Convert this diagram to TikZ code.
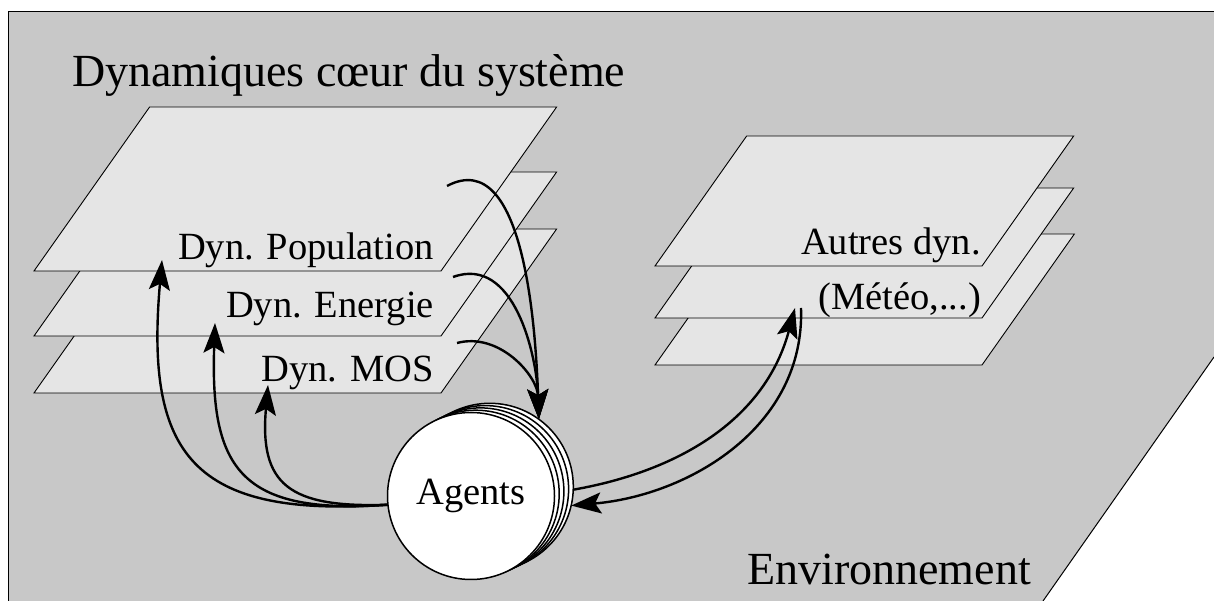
\documentclass[tikz,border=0pt]{standalone}
\usepackage{fontspec}
\setmainfont{Liberation Serif}
\usetikzlibrary{arrows.meta}
\definecolor{envGray}{gray}{0.784}
\definecolor{planeGray}{gray}{0.898}
\tikzset{
  plane/.style={draw=black, fill=planeGray, line width=0.9pt},
  dynLabel/.style={inner sep=0pt, anchor=base east, font=\fontsize{38.5}{40}\selectfont},
  bigLabel/.style={inner sep=0pt, anchor=base west, font=\fontsize{46}{48}\selectfont},
  agentDisk/.style={circle, draw=black, fill=white, line width=1.5pt, minimum size=167pt, inner sep=0pt, outer sep=0pt},
  flow/.style={line width=2.4pt, -{Stealth[length=30pt, width=21pt, inset=6pt]}},
}
\newcommand{\dynplane}[4]{\draw[plane] (#1,#2) -- ++(#3,0) -- ++(0.705*#4,#4) -- ++(-#3,0) -- cycle;}

\begin{document}
\begin{tikzpicture}[x=1pt, y=1pt]
\useasboundingbox (0,0) rectangle (1214,601);
\fill[envGray] (8,0) -- (8,589) -- (1214,589) -- (1214,244) -- (1043,0) -- cycle;
\draw[line width=1pt] (8,0) -- (8,589) -- (1214,589);
\draw[line width=1pt] (1214,244) -- (1043,0);

\dynplane{34}{208}{407}{164}
\dynplane{34}{265}{407}{164}
\dynplane{34}{330}{407}{164}
\dynplane{655}{236}{327}{131}
\dynplane{655}{283}{327}{130}
\dynplane{655}{335}{327}{130}

\node[bigLabel] (title) at (72,514) {Dynamiques cœur du système};
\node[dynLabel] (popLabel) at (434,341) {Dyn. Population};
\node[dynLabel] (energyLabel) at (434,283) {Dyn. Energie};
\node[dynLabel] (mosLabel) at (434,219) {Dyn. MOS};
\node[dynLabel] (otherLabel) at (981,346) {Autres dyn.};
\node[dynLabel] (meteoLabel) at (981,291) {(Météo,...)};
\node[bigLabel] (envLabel) at (747,16) {Environnement};

\coordinate (agentPos) at (471,105);
\foreach \i in {4,3,2,1}
  \node[agentDisk] (agent\i) at ([shift={(\i*4.7,\i*2.3)}]agentPos) {};
\node[agentDisk, font=\fontsize{38.5}{40}\selectfont] (agents) at (agentPos) {Agents};

\coordinate (popIn) at (162,341);
\coordinate (energyIn) at (215,278);
\coordinate (mosIn) at (268,216);
\coordinate (popOut) at (447,415);
\coordinate (energyOut) at (453,324);
\coordinate (mosOut) at (457,258);
\coordinate (otherIn) at (795,293);
\coordinate (otherOut) at (801,293);

\draw[flow] (agents.186) to[out=184, in=-95, looseness=1.5] (popIn);
\draw[flow] (agents.186) to[out=184, in=-92, looseness=1.5] (energyIn);
\draw[flow] (agents.186) to[out=182, in=-95, looseness=1.5] (mosIn);
\draw[flow] (popOut) to[out=28, in=92, looseness=0.9] (agent4.54);
\draw[flow] (energyOut) to[out=20, in=92] (agent4.54);
\draw[flow] (mosOut) to[out=15, in=92] (agent4.54);
\draw[flow] (agent4.-2) to[out=10, in=-105] (otherIn);
\draw[flow] (otherOut) to[out=-88, in=5] (agent4.-13);
\end{tikzpicture}
\end{document}
